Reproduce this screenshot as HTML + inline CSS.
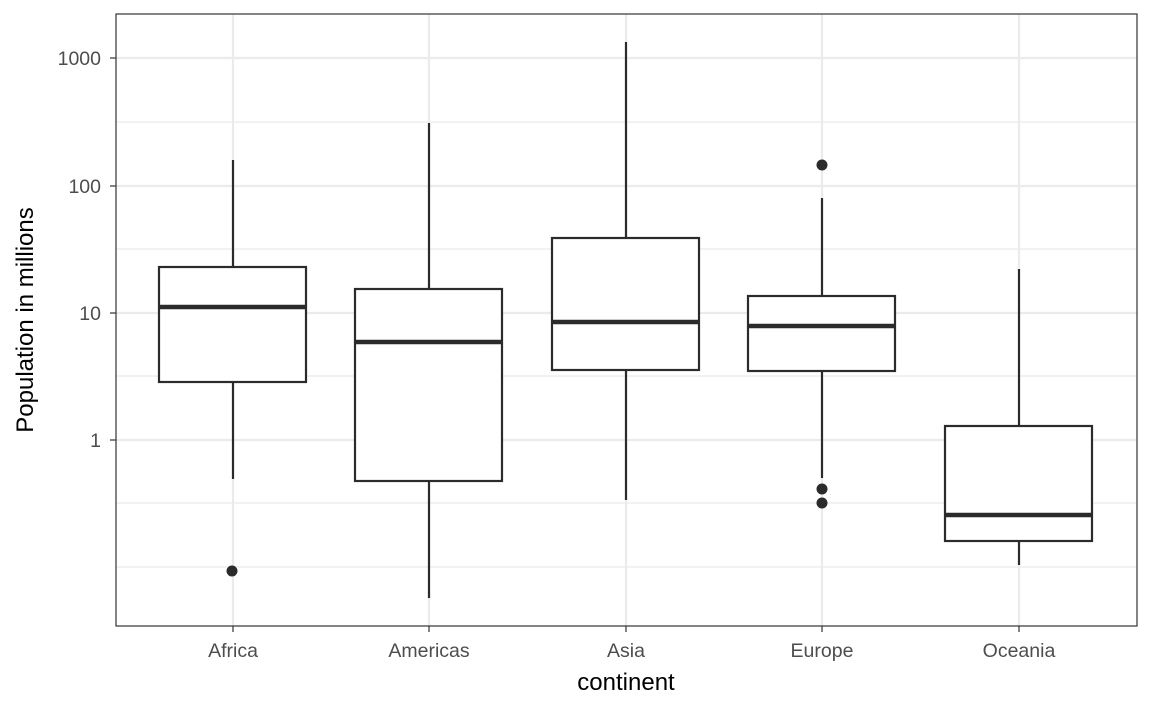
<!DOCTYPE html>
<html><head><meta charset="utf-8"><style>body{margin:0;background:#fff}</style></head><body>
<svg width="1152" height="711" xmlns="http://www.w3.org/2000/svg" font-family="Liberation Sans, Arial, sans-serif">
<rect width="1152" height="711" fill="#fff"/>
<g stroke="#ebebeb" stroke-width="1.2">
<line x1="116" x2="1137" y1="122" y2="122"/><line x1="116" x2="1137" y1="249" y2="249"/><line x1="116" x2="1137" y1="376" y2="376"/><line x1="116" x2="1137" y1="503" y2="503"/><line x1="116" x2="1137" y1="567" y2="567"/>
</g>
<g stroke="#ebebeb" stroke-width="2.2">
<line x1="116" x2="1137" y1="58" y2="58"/><line x1="116" x2="1137" y1="186" y2="186"/><line x1="116" x2="1137" y1="313" y2="313"/><line x1="116" x2="1137" y1="440" y2="440"/>
<line x1="233" x2="233" y1="14" y2="626"/><line x1="429" x2="429" y1="14" y2="626"/><line x1="626" x2="626" y1="14" y2="626"/><line x1="822" x2="822" y1="14" y2="626"/><line x1="1019" x2="1019" y1="14" y2="626"/>
</g>
<g stroke="#2b2b2b" stroke-width="2.2" fill="#fff">
<line x1="233" x2="233" y1="160" y2="479"/><rect x="159" y="267" width="147" height="115"/><line x1="159" x2="306" y1="307" y2="307" stroke-width="4.5"/>
<line x1="429" x2="429" y1="123" y2="598"/><rect x="355" y="289" width="147" height="192"/><line x1="355" x2="502" y1="342" y2="342" stroke-width="4.5"/>
<line x1="626" x2="626" y1="42" y2="500"/><rect x="552" y="238" width="147" height="132"/><line x1="552" x2="699" y1="322" y2="322" stroke-width="4.5"/>
<line x1="822" x2="822" y1="198" y2="478"/><rect x="748" y="296" width="147" height="75"/><line x1="748" x2="895" y1="326" y2="326" stroke-width="4.5"/>
<line x1="1019" x2="1019" y1="269" y2="565"/><rect x="945" y="426" width="147" height="115"/><line x1="945" x2="1092" y1="515" y2="515" stroke-width="4.5"/>
</g>
<g fill="#2b2b2b"><circle cx="232" cy="571" r="5.5"/><circle cx="822" cy="165" r="5.5"/><circle cx="822" cy="489" r="5.5"/><circle cx="822" cy="503" r="5.5"/></g>
<rect x="116" y="14" width="1021" height="612" fill="none" stroke="#333" stroke-width="1.2"/>
<g stroke="#333" stroke-width="1.2">
<line x1="110" x2="116" y1="58" y2="58"/><line x1="110" x2="116" y1="186" y2="186"/><line x1="110" x2="116" y1="313" y2="313"/><line x1="110" x2="116" y1="440" y2="440"/>
<line x1="233" x2="233" y1="626" y2="632"/><line x1="429" x2="429" y1="626" y2="632"/><line x1="626" x2="626" y1="626" y2="632"/><line x1="822" x2="822" y1="626" y2="632"/><line x1="1019" x2="1019" y1="626" y2="632"/>
</g>
<g fill="#4d4d4d" font-size="19.5" text-anchor="end">
<text x="101" y="65">1000</text><text x="101" y="193">100</text><text x="101" y="320">10</text><text x="101" y="447">1</text>
</g>
<g fill="#4d4d4d" font-size="19.5" text-anchor="middle">
<text x="233" y="657">Africa</text><text x="429" y="657">Americas</text><text x="626" y="657">Asia</text><text x="822" y="657">Europe</text><text x="1019" y="657">Oceania</text>
</g>
<text x="626" y="690" font-size="24" text-anchor="middle" fill="#000">continent</text>
<text transform="translate(33,320) rotate(-90)" font-size="24" text-anchor="middle" fill="#000">Population in millions</text>
</svg>
</body></html>
